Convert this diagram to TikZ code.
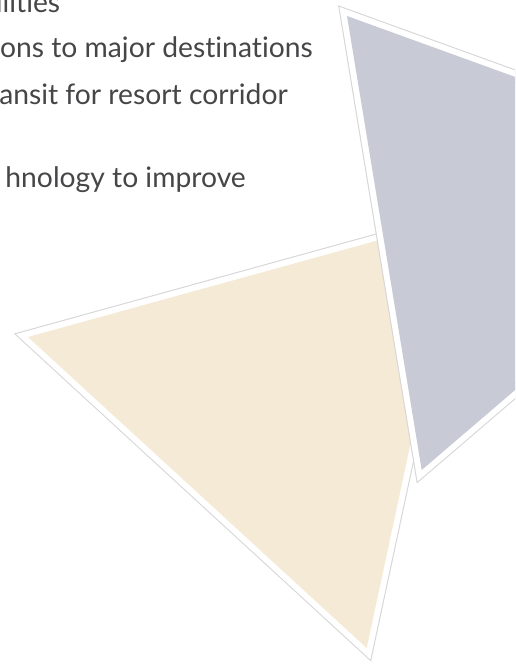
\documentclass[tikz,border=0pt]{standalone}
\usepackage{fontspec}
\setmainfont[Ligatures=NoCommon]{Lato}
\definecolor{slateFill}{RGB}{200,203,214}
\definecolor{sandFill}{RGB}{245,234,214}
\definecolor{edgeLine}{RGB}{214,214,216}
\definecolor{bodyText}{RGB}{70,70,72}
\begin{document}
\tikzset{every picture/.style={line width=0.75pt}}
\tikzset{
  tri outline/.style={color=edgeLine, line width=10.6pt, line join=miter},
  tri border/.style={color=white, line width=9pt, line join=miter},
  bullet text/.style={anchor=base east, inner sep=0.75pt, color=bodyText, font=\fontsize{21.2}{25}\selectfont}
}

\begin{tikzpicture}[x=0.75pt,y=0.75pt,yscale=-1,xscale=1]
\useasboundingbox (0,0) rectangle (515,667);
\clip (0,0) rectangle (515,667);

%Shape: Triangle [sand, lower left]
\draw [tri outline] (28,337) -- (459,218) -- (366.7,648) -- cycle ;
\draw [tri border] (28,337) -- (459,218) -- (366.7,648) -- cycle ;
\fill [sandFill] (28,337) -- (459,218) -- (366.7,648) -- cycle ;

%Shape: Triangle [slate, right]
\draw [tri outline] (347,16) -- (772,170) -- (421.7,470) -- cycle ;
\draw [tri border] (347,16) -- (772,170) -- (421.7,470) -- cycle ;
\fill [slateFill] (347,16) -- (772,170) -- (421.7,470) -- cycle ;

% Text Node
\draw (61.7,12.7) node (facil) [bullet text] {ilities};
% Text Node
\draw (314.3,58) node (dest) [bullet text] {ons to major destinations};
% Text Node
\draw (289.3,104) node (resort) [bullet text] {ansit for resort corridor};
% Text Node
\draw (247.3,187) node (techn) [bullet text] {hnology to improve};

\end{tikzpicture}
\end{document}
